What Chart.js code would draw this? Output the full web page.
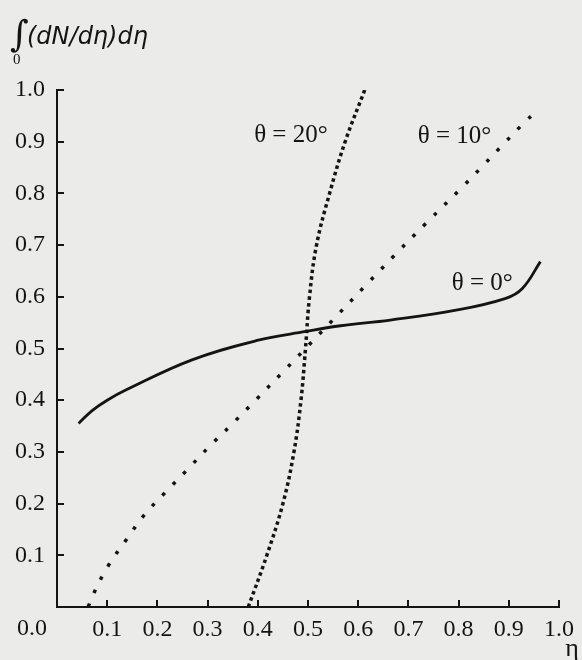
<!DOCTYPE html>
<html>
<head>
<meta charset="utf-8">
<script src="https://cdn.jsdelivr.net/npm/chart.js@4"></script>
<style>
  html, body { margin: 0; padding: 0; background: #ebebe9; }
  #wrap { width: 582px; height: 660px; }
</style>
</head>
<body>
<div id="wrap"><canvas id="cdf" width="582" height="660"></canvas></div>
<script>
// curves: eta vs cumulative integral
const etaTheta0 = [0.043, 0.07, 0.10, 0.138, 0.269, 0.401, 0.496, 0.565, 0.664, 0.795, 0.894, 0.927, 0.963];
const sumTheta0 = [0.355, 0.380, 0.400, 0.420, 0.478, 0.516, 0.533, 0.544, 0.555, 0.574, 0.597, 0.616, 0.668];

const etaTheta10 = [0.062, 0.072, 0.101, 0.138, 0.174, 0.216, 0.259, 0.302, 0.348, 0.499, 0.674, 0.736, 0.805, 0.848, 0.891, 0.934, 0.958];
const sumTheta10 = [0.000, 0.024, 0.078, 0.130, 0.178, 0.222, 0.265, 0.309, 0.353, 0.504, 0.682, 0.743, 0.810, 0.853, 0.897, 0.940, 0.961];

const etaTheta20 = [0.381, 0.418, 0.450, 0.472, 0.486, 0.495, 0.503, 0.517, 0.543, 0.574, 0.613];
const sumTheta20 = [0.000, 0.100, 0.200, 0.300, 0.400, 0.500, 0.600, 0.700, 0.800, 0.900, 1.000];

const curveLabels = ["\u03b8 = 0\u00b0", "\u03b8 = 10\u00b0", "\u03b8 = 20\u00b0"];
const tickLabels = ["0.0", "0.1", "0.2", "0.3", "0.4", "0.5", "0.6", "0.7", "0.8", "0.9", "1.0"];

const ink = "#141414";
const serif = "'Liberation Serif', 'DejaVu Serif', serif";

function pts(xs, ys) {
  return xs.map((x, i) => ({x: x, y: ys[i]}));
}

// inner tick marks, curve labels, axis titles
const decor = {
  id: "decor",
  afterDraw(chart) {
    const {ctx, scales: {x, y}, chartArea: a} = chart;
    ctx.save();
    ctx.strokeStyle = ink;
    ctx.lineWidth = 2;
    for (let i = 1; i < tickLabels.length; i++) {
      const v = i / 10;
      const px = Math.round(x.getPixelForValue(v));
      ctx.beginPath(); ctx.moveTo(px, a.bottom); ctx.lineTo(px, a.bottom - 7); ctx.stroke();
      const py = Math.round(y.getPixelForValue(v));
      ctx.beginPath(); ctx.moveTo(a.left, py); ctx.lineTo(a.left + 7, py); ctx.stroke();
    }

    ctx.fillStyle = ink;
    ctx.textAlign = "center";
    ctx.textBaseline = "middle";
    ctx.font = "25px " + serif;
    ctx.fillText(curveLabels[2], x.getPixelForValue(0.466), y.getPixelForValue(0.913));
    ctx.fillText(curveLabels[1], x.getPixelForValue(0.792), y.getPixelForValue(0.911));
    ctx.fillText(curveLabels[0], x.getPixelForValue(0.847), y.getPixelForValue(0.626));

    // shared origin label
    ctx.font = "24px " + serif;
    ctx.fillText(tickLabels[0], 32, 629);

    // eta at bottom right
    ctx.font = "26px " + serif;
    ctx.fillText("\u03b7", 572, 649);

    // y title: integral from 0 of (dN/deta) deta
    ctx.textAlign = "left";
    ctx.textBaseline = "alphabetic";
    ctx.font = "36px 'DejaVu Serif'";
    ctx.fillText("\u222b", 10, 46);
    ctx.font = "15px " + serif;
    ctx.fillText("0", 13, 64);
    ctx.font = "italic 24px 'DejaVu Sans'";
    ctx.fillText("(dN/d\u03b7)d\u03b7", 27, 44);
    ctx.restore();
  }
};

const bg = {
  id: "bg",
  beforeDraw(chart) {
    const ctx = chart.ctx;
    ctx.save();
    ctx.fillStyle = "#ebebe9";
    ctx.fillRect(0, 0, chart.width, chart.height);
    ctx.restore();
  }
};

const tickFont = {family: serif, size: 24};

new Chart(document.getElementById("cdf"), {
  type: "scatter",
  data: {
    datasets: [
      {
        label: curveLabels[0],
        data: pts(etaTheta0, sumTheta0),
        showLine: true,
        borderColor: ink,
        borderWidth: 2.8,
        pointRadius: 0,
        tension: 0.4
      },
      {
        label: curveLabels[1],
        data: pts(etaTheta10, sumTheta10),
        showLine: true,
        borderColor: ink,
        borderWidth: 3.5,
        borderDash: [3.5, 11.5],
        pointRadius: 0,
        tension: 0.4
      },
      {
        label: curveLabels[2],
        data: pts(etaTheta20, sumTheta20),
        showLine: true,
        borderColor: ink,
        borderWidth: 3.5,
        borderDash: [3.5, 3.2],
        pointRadius: 0,
        tension: 0.4
      }
    ]
  },
  options: {
    responsive: false,
    animation: false,
    devicePixelRatio: 1,
    layout: {padding: {top: 90, right: 17, left: 0, bottom: 0}},
    plugins: {legend: {display: false}, tooltip: {enabled: false}},
    scales: {
      x: {
        type: "linear",
        min: 0, max: 1,
        afterFit(s) { s.height = 53; },
        grid: {display: false, drawTicks: false},
        border: {display: true, color: ink, width: 2},
        ticks: {
          stepSize: 0.1,
          padding: 8,
          color: ink,
          font: tickFont,
          callback: (v) => {
            const i = Math.round(v * 10);
            return i === 0 ? "" : tickLabels[i];
          }
        }
      },
      y: {
        type: "linear",
        min: 0, max: 1,
        afterFit(s) { s.width = 57; },
        grid: {display: false, drawTicks: false},
        border: {display: true, color: ink, width: 2},
        ticks: {
          stepSize: 0.1,
          padding: 12,
          color: ink,
          font: tickFont,
          callback: (v) => {
            const i = Math.round(v * 10);
            return i === 0 ? "" : tickLabels[i];
          }
        }
      }
    }
  },
  plugins: [bg, decor]
});
</script>
</body>
</html>
